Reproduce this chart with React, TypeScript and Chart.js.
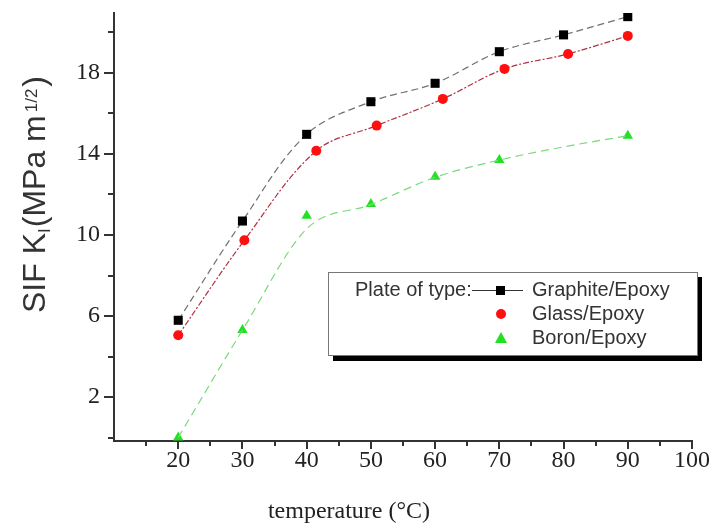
import React, { useEffect, useRef } from 'react';
import { Chart, registerables } from 'chart.js';
Chart.register(...registerables);

const graphiteX = [20, 30, 40, 50, 60, 70, 80, 90];
const graphiteY = [5.79, 10.69, 14.97, 16.58, 17.49, 19.05, 19.88, 20.78];
const glassX = [20, 30.3, 41.5, 50.9, 61.2, 70.8, 80.7, 90];
const glassY = [5.05, 9.74, 14.16, 15.4, 16.72, 18.2, 18.94, 19.83];
const boronX = [20, 30, 40, 50, 60, 70, 90];
const boronY = [0, 5.31, 10.95, 11.53, 12.88, 13.7, 14.9];
const boronFitX = [20, 30, 40, 50, 60, 70, 80, 90];
const boronFitY = [0, 5.3, 10.3, 11.5, 12.85, 13.7, 14.35, 14.9];

const xTickLabels = [20, 30, 40, 50, 60, 70, 80, 90, 100];
const xMinorTicks = [15, 25, 35, 45, 55, 65, 75, 85, 95];
const yTickLabels = [2, 6, 10, 14, 18];
const yMinorTicks = [0, 4, 8, 12, 16, 20];

const seriesNames = ['Graphite/Epoxy', 'Glass/Epoxy', 'Boron/Epoxy'];
const legendTitle = 'Plate of type:';
const xTitle = 'temperature (°C)';

const zip = (xs: number[], ys: number[]) => xs.map((x, i) => ({ x, y: ys[i] }));

const decorPlugin = {
  id: 'decor',
  afterDraw(chart: any) {
    const ctx: CanvasRenderingContext2D = chart.ctx;
    const xs = chart.scales.x;
    const ys = chart.scales.y;
    const area = chart.chartArea;
    ctx.save();
    // ticks
    ctx.strokeStyle = '#333';
    ctx.lineWidth = 2;
    const bottom = area.bottom;
    const left = area.left;
    const xt = (v: number, len: number) => {
      const px = Math.round(xs.getPixelForValue(v));
      ctx.beginPath();
      ctx.moveTo(px, bottom);
      ctx.lineTo(px, bottom + len);
      ctx.stroke();
    };
    const yt = (v: number, len: number) => {
      const py = Math.round(ys.getPixelForValue(v));
      ctx.beginPath();
      ctx.moveTo(left, py);
      ctx.lineTo(left - len, py);
      ctx.stroke();
    };
    xTickLabels.forEach((v) => xt(v, 8));
    xMinorTicks.forEach((v) => xt(v, 5));
    yTickLabels.forEach((v) => yt(v, 10));
    yMinorTicks.forEach((v) => yt(v, 6));

    // x title
    ctx.fillStyle = '#222';
    ctx.font = '24px "Liberation Serif", "Times New Roman", serif';
    ctx.textAlign = 'center';
    ctx.textBaseline = 'middle';
    ctx.fillText(xTitle, 349, 512);

    // y title (rotated, with sub/superscript)
    ctx.save();
    ctx.translate(45, 313);
    ctx.rotate(-Math.PI / 2);
    ctx.textAlign = 'left';
    ctx.textBaseline = 'alphabetic';
    ctx.fillStyle = '#333';
    const big = '32px "Liberation Sans", Arial, sans-serif';
    const small = '17px "Liberation Sans", Arial, sans-serif';
    let u = 0;
    ctx.font = big;
    const p1 = 'SIF K';
    ctx.fillText(p1, u, 0);
    u += ctx.measureText(p1).width;
    ctx.font = small;
    ctx.fillText('I', u, 5);
    u += ctx.measureText('I').width + 1;
    ctx.font = big;
    const p2 = '(MPa m';
    ctx.fillText(p2, u, 0);
    u += ctx.measureText(p2).width + 3;
    ctx.font = small;
    ctx.fillText('1/2', u, -8);
    u += ctx.measureText('1/2').width + 2;
    ctx.font = big;
    ctx.fillText(')', u, 0);
    ctx.restore();

    // legend box
    const bx = 328, by = 272, bw = 369, bh = 83;
    ctx.fillStyle = '#000';
    ctx.fillRect(bx + 5, by + 5, bw, bh + 1);
    ctx.fillStyle = '#fff';
    ctx.fillRect(bx, by, bw, bh);
    ctx.strokeStyle = '#777';
    ctx.lineWidth = 1;
    ctx.strokeRect(bx + 0.5, by + 0.5, bw, bh);

    ctx.font = '20px "Liberation Sans", Arial, sans-serif';
    ctx.fillStyle = '#333';
    ctx.textAlign = 'left';
    ctx.textBaseline = 'middle';
    const rows = [290, 314, 338];
    ctx.fillText(legendTitle, 355, rows[0]);
    seriesNames.forEach((n, i) => ctx.fillText(n, 532, rows[i]));
    // sample line
    ctx.strokeStyle = '#333';
    ctx.lineWidth = 1;
    ctx.beginPath();
    ctx.moveTo(472, rows[0] + 0.5);
    ctx.lineTo(523, rows[0] + 0.5);
    ctx.stroke();
    ctx.fillStyle = '#000';
    ctx.fillRect(496, rows[0] - 4, 9, 9);
    ctx.fillStyle = '#ff1010';
    ctx.beginPath();
    ctx.arc(501, rows[1], 5, 0, Math.PI * 2);
    ctx.fill();
    ctx.fillStyle = '#22e022';
    ctx.beginPath();
    ctx.moveTo(501, rows[2] - 6);
    ctx.lineTo(507, rows[2] + 5);
    ctx.lineTo(495, rows[2] + 5);
    ctx.closePath();
    ctx.fill();
    ctx.restore();
  },
};

export default function App() {
  const ref = useRef<HTMLCanvasElement>(null);
  useEffect(() => {
    if (!ref.current) return;
    const chart = new Chart(ref.current, {
      type: 'scatter',
      data: {
        datasets: [
          {
            label: seriesNames[0],
            data: zip(graphiteX, graphiteY),
            showLine: true,
            borderColor: '#707070',
            borderWidth: 1.2,
            borderDash: [7, 4],
            tension: 0.35,
            pointStyle: 'rect',
            pointRadius: 6.4,
            pointBackgroundColor: '#000',
            pointBorderColor: '#000',
            pointBorderWidth: 0,
          },
          {
            label: seriesNames[1],
            data: zip(glassX, glassY),
            showLine: true,
            borderColor: '#b03040',
            borderWidth: 1.2,
            borderDash: [6, 2, 2, 2],
            tension: 0.35,
            pointStyle: 'circle',
            pointRadius: 5,
            pointBackgroundColor: '#ff1010',
            pointBorderColor: '#ff1010',
            pointBorderWidth: 0,
          },
          {
            label: 'Boron fit',
            data: zip(boronFitX, boronFitY),
            showLine: true,
            borderColor: '#7ada7a',
            borderWidth: 1.2,
            borderDash: [8, 5],
            cubicInterpolationMode: 'monotone',
            pointRadius: 0,
          },
          {
            label: seriesNames[2],
            data: zip(boronX, boronY),
            showLine: false,
            pointStyle: 'triangle',
            pointRadius: 6,
            pointBackgroundColor: '#22e022',
            pointBorderColor: '#22e022',
            pointBorderWidth: 0,
          },
        ],
      },
      options: {
        animation: false,
        responsive: false,
        devicePixelRatio: 1,
        layout: { padding: { top: 13, right: 22, left: 0, bottom: 0 } },
        plugins: { legend: { display: false }, tooltip: { enabled: false } },
        scales: {
          x: {
            type: 'linear',
            min: 10,
            max: 100,
            afterFit: (s: any) => { s.height = 83; s.paddingLeft = 0; s.paddingRight = 0; },
            border: { display: true, color: '#333', width: 2 },
            grid: { display: true, drawOnChartArea: false, drawTicks: false, color: 'rgba(0,0,0,0)' },
            ticks: {
              stepSize: 10,
              padding: 5,
              color: '#222',
              maxRotation: 0,
              autoSkip: false,
              font: { family: '"Liberation Serif", "Times New Roman", serif', size: 24 },
              callback: (v: any) => (xTickLabels.includes(Math.round(v)) && Math.abs(v - Math.round(v)) < 1e-6 ? String(Math.round(v)) : ''),
            },
          },
          y: {
            type: 'linear',
            min: -0.17,
            max: 20.96,
            afterFit: (s: any) => { s.width = 114; s.paddingTop = 0; s.paddingBottom = 0; },
            border: { display: true, color: '#333', width: 2 },
            grid: { display: true, drawOnChartArea: false, drawTicks: false, color: 'rgba(0,0,0,0)' },
            ticks: {
              stepSize: 2,
              padding: 14,
              color: '#222',
              autoSkip: false,
              font: { family: '"Liberation Serif", "Times New Roman", serif', size: 24 },
              callback: (v: any) => {
                const r = Math.round(v);
                return Math.abs(v - r) < 1e-6 && yTickLabels.includes(r) ? String(r) : '';
              },
            },
          },
        },
      },
      plugins: [decorPlugin],
    } as any);
    return () => chart.destroy();
  }, []);
  return (
    <div style={{ position: 'fixed', left: 0, top: 0, width: 714, height: 524, background: '#fff' }}>
      <canvas ref={ref} width={714} height={524} style={{ width: 714, height: 524, display: 'block' }} />
    </div>
  );
}
